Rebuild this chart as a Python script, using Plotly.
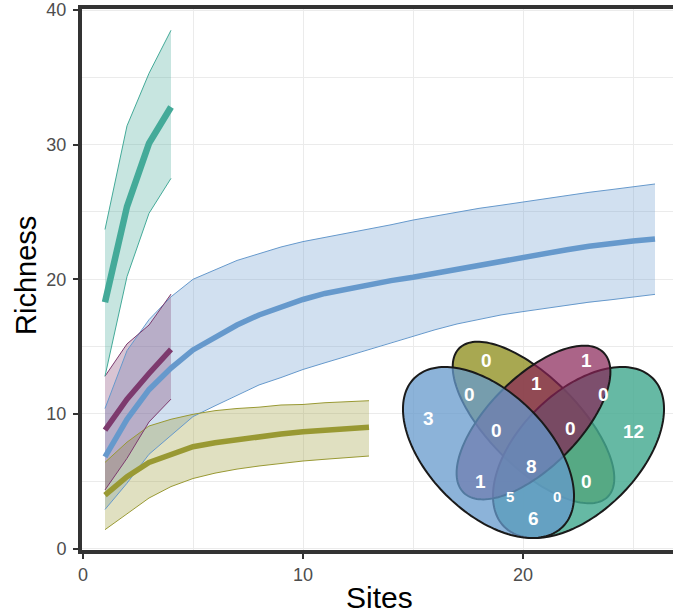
import numpy as np
import plotly.graph_objects as go

# ---------------- data ----------------
sites_blue = list(range(1, 27))
blue_mean = [6.8, 9.6, 11.8, 13.4, 14.75, 15.7, 16.6, 17.35, 17.95, 18.5, 18.95, 19.3, 19.6,
             19.9, 20.15, 20.45, 20.77, 21.06, 21.4, 21.7, 21.98, 22.2, 22.45, 22.68, 22.85, 23.0]
blue_upper = [10.4, 14.7, 17.0, 18.7, 20.0, 20.7, 21.4, 21.9, 22.4, 22.8, 23.1, 23.4, 23.7,
              24.05, 24.4, 24.7, 25.0, 25.27, 25.5, 25.75, 26.0, 26.26, 26.46, 26.66, 26.88, 27.08]
blue_lower = [2.9, 4.85, 7.0, 8.4, 9.8, 10.6, 11.4, 12.15, 12.7, 13.3, 13.8, 14.3, 14.8,
              15.3, 15.8, 16.25, 16.68, 17.03, 17.35, 17.6, 17.85, 18.1, 18.3, 18.48, 18.68, 18.88]

sites_olive = list(range(1, 14))
olive_mean = [3.97, 5.33, 6.4, 7.0, 7.56, 7.86, 8.1, 8.36, 8.5, 8.68, 8.8, 8.93, 9.0]
olive_upper = [6.4, 7.9, 9.1, 9.6, 9.97, 10.24, 10.4, 10.5, 10.66, 10.7, 10.83, 10.9, 10.98]
olive_lower = [1.4, 2.6, 3.75, 4.6, 5.2, 5.6, 5.9, 6.13, 6.33, 6.5, 6.63, 6.75, 6.87]

sites_short = [1, 2, 3, 4]
teal_mean = [18.3, 25.4, 30.1, 32.8]
teal_upper = [23.7, 31.4, 35.3, 38.5]
teal_lower = [12.8, 20.2, 24.9, 27.5]

purple_mean = [8.8, 11.1, 13.0, 14.8]
purple_upper = [12.8, 15.2, 16.6, 18.9]
purple_lower = [4.35, 6.7, 9.4, 11.1]

x_ticks = [0, 10, 20]
y_ticks = [0, 10, 20, 30, 40]

# Venn region counts
venn_counts = [0, 1, 1, 0, 0, 3, 12, 0, 0, 8, 1, 0, 5, 0, 6]

# ---------------- styles ----------------
C_BLUE = "#6699CC"
C_OLIVE = "#999933"
C_TEAL = "#44AA99"
C_PURPLE = "#7D3A6E"
FONT = "Liberation Sans, Arial, sans-serif"


def rgba(hex_color, a):
    h = hex_color.lstrip("#")
    r, g, b = int(h[0:2], 16), int(h[2:4], 16), int(h[4:6], 16)
    return f"rgba({r},{g},{b},{a})"


fig = go.Figure()

series = [
    (sites_blue, blue_mean, blue_upper, blue_lower, C_BLUE, 5.5),
    (sites_olive, olive_mean, olive_upper, olive_lower, C_OLIVE, 5.5),
    (sites_short, purple_mean, purple_upper, purple_lower, C_PURPLE, 5.5),
    (sites_short, teal_mean, teal_upper, teal_lower, C_TEAL, 6.5),
]

# ribbons
for xs, m, up, lo, col, lw in series:
    fig.add_trace(go.Scatter(
        x=list(xs) + list(xs)[::-1], y=list(up) + list(lo)[::-1],
        fill="toself", fillcolor=rgba(col, 0.3), line=dict(width=0),
        mode="lines", hoverinfo="skip", showlegend=False))
# ribbon edges
for xs, m, up, lo, col, lw in series:
    for edge in (up, lo):
        fig.add_trace(go.Scatter(x=xs, y=edge, mode="lines",
                                 line=dict(color=col, width=1), showlegend=False))
# mean lines
for xs, m, up, lo, col, lw in series:
    fig.add_trace(go.Scatter(x=xs, y=m, mode="lines",
                             line=dict(color=col, width=lw), showlegend=False))

# ---------------- Venn inset ----------------
# ellipse geometry: centre x, centre y, semi-major, semi-minor, rotation (deg)
ellipses = [
    (0.50, 0.57, 0.35, 0.15, 135, "#999933", 0.85),   # olive (inner, left-tilted)
    (0.65, 0.47, 0.35, 0.20, 45, "#44AA90", 0.82),    # green (outer right)
    (0.50, 0.57, 0.33, 0.15, 45, "#882255", 0.70),    # wine (inner, right-tilted)
    (0.35, 0.47, 0.35, 0.20, 135, "#6699CC", 0.75),   # blue (outer left)
]


def ellipse_path(cx, cy, a, b, rot, n=160):
    t = np.linspace(0, 2 * np.pi, n, endpoint=False)
    th = np.deg2rad(rot)
    xs = cx + a * np.cos(t) * np.cos(th) - b * np.sin(t) * np.sin(th)
    ys = cy + a * np.cos(t) * np.sin(th) + b * np.sin(t) * np.cos(th)
    pts = [f"{x:.4f},{y:.4f}" for x, y in zip(xs, ys)]
    return "M " + " L ".join(pts) + " Z"


for cx, cy, a, b, rot, col, op in ellipses:
    fig.add_shape(type="path", path=ellipse_path(cx, cy, a, b, rot),
                  xref="x2", yref="y2", fillcolor=rgba(col, op),
                  line=dict(color="#1a1a1a", width=2), layer="above")

venn_label_pos = [
    (0.344, 0.778), (0.677, 0.778), (0.511, 0.701), (0.288, 0.662), (0.733, 0.662),
    (0.149, 0.584), (0.833, 0.539), (0.377, 0.545), (0.622, 0.551), (0.494, 0.423),
    (0.322, 0.373), (0.677, 0.373), (0.422, 0.323), (0.577, 0.323), (0.499, 0.251),
]
venn_label_size = [19, 19, 19, 19, 19, 19, 19, 19, 19, 19, 19, 19, 15, 15, 19]

for cnt, (ux, uy), fs in zip(venn_counts, venn_label_pos, venn_label_size):
    fig.add_annotation(x=ux, y=uy, xref="x2", yref="y2", text=f"<b>{cnt}</b>",
                       showarrow=False,
                       font=dict(family=FONT, size=fs, color="white"))

# axis titles
fig.add_annotation(text="Richness", xref="paper", yref="paper", x=0, y=0.5065,
                   xanchor="center", yanchor="middle",
                   xshift=-56, textangle=-90, showarrow=False,
                   font=dict(family=FONT, size=29, color="black"))
fig.add_annotation(text="Sites", xref="paper", yref="paper", x=0.504, y=0,
                   xanchor="center", yanchor="middle",
                   yshift=-47, showarrow=False,
                   font=dict(family=FONT, size=30, color="black"))

grid_col = "#EBEBEB"
tickfont = dict(family=FONT, size=18, color="#4D4D4D")

fig.update_layout(
    width=673, height=613,
    margin=dict(l=82, r=0, t=9, b=63),
    plot_bgcolor="rgba(0,0,0,0)", paper_bgcolor="white",
    showlegend=False,
    xaxis=dict(range=[-0.0455, 26.818], tickvals=x_ticks, ticktext=[str(v) for v in x_ticks],
               showgrid=True, gridcolor=grid_col, gridwidth=1.3, zeroline=False,
               minor=dict(dtick=5, tick0=0, showgrid=True, gridcolor=grid_col, gridwidth=1.1),
               showline=True, linewidth=4, linecolor="#333333", mirror=True,
               ticks="outside", ticklen=5, tickwidth=1.5, tickcolor="#333333",
               tickfont=tickfont),
    yaxis=dict(range=[-0.111, 40.08], tickvals=y_ticks, ticktext=[str(v) for v in y_ticks],
               showgrid=True, gridcolor=grid_col, gridwidth=1.3, zeroline=False,
               minor=dict(dtick=5, tick0=0, showgrid=True, gridcolor=grid_col, gridwidth=1.1),
               showline=True, linewidth=4, linecolor="#333333", mirror=False,
               ticks="outside", ticklen=5, tickwidth=1.5, tickcolor="#333333",
               ticklabelstandoff=3, tickfont=tickfont),
    xaxis2=dict(domain=[0.5355, 0.9924], range=[0.05, 0.95], anchor="y2", visible=False,
                fixedrange=True),
    yaxis2=dict(domain=[0.01386, 0.3909], range=[0.17, 0.85], anchor="x2", visible=False,
                fixedrange=True),
)

fig.write_html("out.html", config={"displayModeBar": False},
               post_script="document.body.style.margin='0px';")
